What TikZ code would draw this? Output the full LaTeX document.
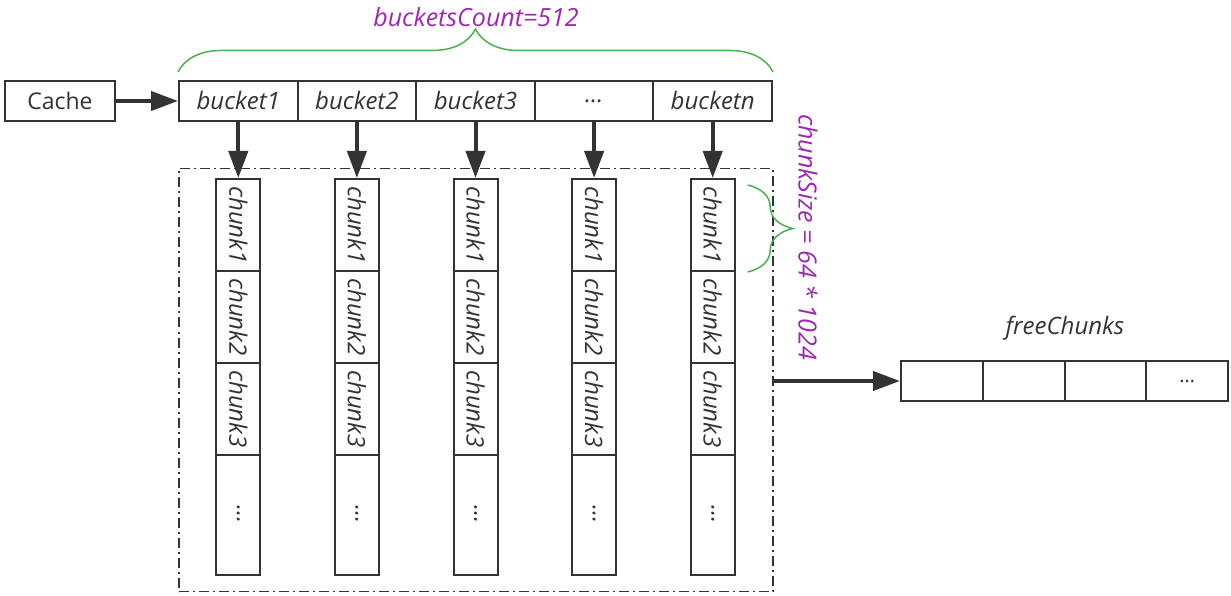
\documentclass[tikz,border=0pt]{standalone}
\usepackage{fontspec}
\setmainfont{Open Sans}
\usetikzlibrary{arrows.meta,positioning,calc,decorations.pathreplacing}
\definecolor{linegray}{HTML}{333333}
\definecolor{bracegreen}{HTML}{4CAF50}
\definecolor{labelpurple}{HTML}{9C27B0}
\tikzset{
	cell/.style={draw=linegray, line width=2pt, minimum height=40pt, inner sep=0pt, text=linegray, font=\fontsize{24}{28}\selectfont\itshape},
	chunkcell/.style={draw=linegray, line width=2pt, minimum width=44pt, inner sep=0pt, text=linegray, font=\fontsize{24}{28}\selectfont\itshape},
	link/.style={draw=linegray, line width=4pt, -{Triangle[length=27pt,width=19pt]}},
	curly/.style={draw=bracegreen, line width=1.5pt, decorate, decoration={brace, amplitude=#1}},
	note/.style={text=labelpurple, font=\fontsize{25}{30}\selectfont\itshape},
}

\begin{document}
\begin{tikzpicture}[x=1pt, y=-1pt]
	%%%%% START %%%%%
	\useasboundingbox (0,0) rectangle (1231,596);
	
	\node[cell, minimum width=110pt, font=\fontsize{23}{28}\selectfont] (cache) at (60,101) {Cache};
	
	\foreach \lbl [count=\i] in {bucket1,bucket2,bucket3,\ldots,bucketn}
		\node[cell, minimum width=118.6pt] (b\i) at ({179+118.6*(\i-0.5)},101) {\lbl};
	
	\draw[link] (cache) -- (b1);
	
	\node[draw=linegray, line width=1.5pt, dash pattern=on 10pt off 4pt on 2pt off 4pt,
		minimum width=594pt, minimum height=423pt, inner sep=0pt] (pool) at (476,380) {};
	
	\foreach \i in {1,...,5} {
		\node[chunkcell, minimum height=92pt] (c\i-1) at ({179+118.6*(\i-0.5)},225) {\rotatebox{-90}{chunk1}};
		\node[chunkcell, minimum height=92pt] (c\i-2) at ({179+118.6*(\i-0.5)},317) {\rotatebox{-90}{chunk2}};
		\node[chunkcell, minimum height=92pt] (c\i-3) at ({179+118.6*(\i-0.5)},409) {\rotatebox{-90}{chunk3}};
		\node[chunkcell, minimum height=120pt] (c\i-4) at ({179+118.6*(\i-0.5)},515) {\rotatebox{-90}{\ldots}};
		\draw[link] (b\i) -- (c\i-1);
	}
	
	%% braces
	\draw[curly=43pt] ($(b1.north west)+(0,-8)$) -- ($(b5.north east)+(0,-8)$);
	\node[note] (count) at (476,17) {bucketsCount=512};
	
	\draw[curly=45pt] ($(c5-1.north east)+(12,7)$) -- ($(c5-1.south east)+(12,0)$);
	\node[note, rotate=-90] (size) at (808,237) {chunkSize = 64 * 1024};
	
	%% free list
	\foreach \lbl [count=\i] in {{},{},{},\ldots}
		\node[cell, minimum width=81.75pt, font=\fontsize{20}{24}\selectfont] (f\i) at ({901+81.75*(\i-0.5)},381) {\lbl};
	\node[cell, draw=none] (freelbl) at (1065,328) {freeChunks};
	
	\draw[link] (pool.east |- f1) -- (f1);
	
	%%%%% END %%%%%
\end{tikzpicture}
\end{document}
